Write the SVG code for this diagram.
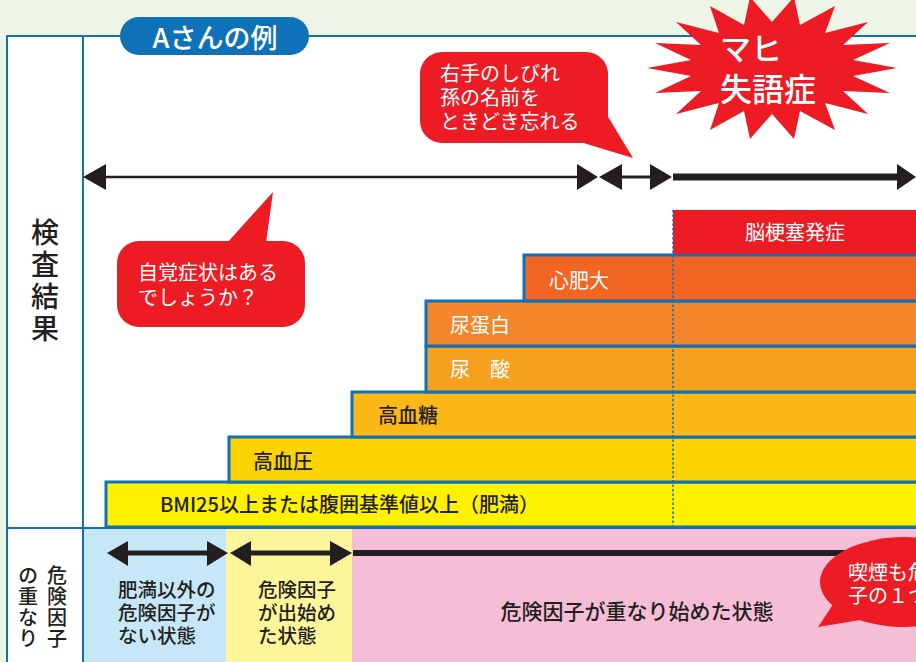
<svg xmlns="http://www.w3.org/2000/svg" width="916" height="662" viewBox="0 0 916 662">
<style>
text{font-family:"Noto Sans CJK JP","Noto Sans",sans-serif}
.bar{stroke:#0f71b7;stroke-width:3}
.w{fill:#fff}
.d{fill:#231f20;font-weight:500}
.f20{font-size:20px}
.ln{stroke:#231f20;fill:none}
.hd{fill:#231f20}
.red{fill:#ed1c24}
.v{writing-mode:vertical-rl}
</style>
<rect x="0" y="0" width="916" height="662" fill="#eef4e6"/>
<g id="frame">
<rect x="7" y="36" width="915" height="632" fill="#fff" stroke="#0f71b7" stroke-width="2"/>
<rect x="83" y="528" width="143" height="134" fill="#c6e7f8"/>
<rect x="226" y="528" width="126" height="134" fill="#fdf59a"/>
<rect x="352" y="528" width="564" height="134" fill="#f6bed6"/>
<line x1="83" y1="36" x2="83" y2="662" stroke="#0f71b7" stroke-width="2"/>
<line x1="7" y1="528" x2="916" y2="528" stroke="#0f71b7" stroke-width="2"/>
</g>
<g id="title">
<rect x="120" y="17" width="189" height="38" rx="19" fill="#0f71b7"/>
<text x="215" y="48" text-anchor="middle" class="w" font-size="27" font-weight="500">Aさんの例</text>
</g>
<g id="label-kensa">
<text x="45" y="218" class="d v" font-size="28" font-weight="400" letter-spacing="4">検査結果</text>
</g>
<g id="label-kiken">
<text x="57" y="565" class="d v" font-size="20" letter-spacing="1">危険因子</text>
<text x="28" y="565" class="d v" font-size="20" letter-spacing="1">の重なり</text>
</g>
<g id="bar-bmi">
<rect class="bar" x="106" y="482" width="830" height="45" fill="#fff200"/>
<text x="160" y="512" class="d f20">BMI25以上または腹囲基準値以上（肥満）</text>
</g>
<g id="bar-koketsuatsu">
<rect class="bar" x="229" y="437" width="710" height="45" fill="#fdd400"/>
<text x="253" y="469" class="d f20">高血圧</text>
</g>
<g id="bar-koketto">
<rect class="bar" x="352" y="392" width="590" height="45" fill="#fbb817"/>
<text x="378" y="423" class="d f20">高血糖</text>
</g>
<g id="bar-nyosan">
<rect class="bar" x="426" y="346" width="520" height="46" fill="#f6a01f"/>
<text x="450" y="377" class="w f20" xml:space="preserve">尿　酸</text>
</g>
<g id="bar-nyotanpaku">
<rect class="bar" x="426" y="301" width="520" height="45" fill="#f3852a"/>
<text x="450" y="333" class="w f20">尿蛋白</text>
</g>
<g id="bar-shinhidai">
<rect class="bar" x="524" y="255" width="420" height="46" fill="#f26522"/>
<text x="549" y="288" class="w f20">心肥大</text>
</g>
<g id="bar-noukousoku">
<rect x="673" y="210" width="250" height="44" fill="#ed1c24"/>
<text x="795" y="240" text-anchor="middle" class="w f20">脳梗塞発症</text>
</g>
<line x1="673" y1="210" x2="673" y2="527" stroke="#0f71b7" stroke-width="1.5" stroke-dasharray="2.5 2"/>
<g id="connectors">
<line class="ln" x1="100" y1="177" x2="580" y2="177" stroke-width="2.5"/>
<polygon class="hd" points="83,177 106,164 106,190"/>
<polygon class="hd" points="598,177 577,164 577,190"/>
<line class="ln" x1="618" y1="177" x2="654" y2="177" stroke-width="3"/>
<polygon class="hd" points="599,177 622,164 622,190"/>
<polygon class="hd" points="672,177 650,164 650,190"/>
<line class="ln" x1="673" y1="177" x2="900" y2="177" stroke-width="7"/>
<polygon class="hd" points="916,177 897,164 897,190"/>
<line class="ln" x1="124" y1="553" x2="211" y2="553" stroke-width="5"/>
<polygon class="hd" points="107,553 128,541 128,566"/>
<polygon class="hd" points="228,553 207,541 207,566"/>
<line class="ln" x1="247" y1="553" x2="334" y2="553" stroke-width="5"/>
<polygon class="hd" points="230,553 251,541 251,566"/>
<polygon class="hd" points="352,553 330,541 330,566"/>
<line class="ln" x1="353" y1="553" x2="870" y2="553" stroke-width="6"/>
</g>
<g id="bottom-texts" class="d" font-size="19.5">
<text x="118" y="597">肥満以外の<tspan x="118" dy="23">危険因子が</tspan><tspan x="118" dy="23">ない状態</tspan></text>
<text x="258" y="597">危険因子<tspan x="258" dy="23">が出始め</tspan><tspan x="258" dy="23">た状態</tspan></text>
<text x="637" y="619" text-anchor="middle" font-size="21">危険因子が重なり始めた状態</text>
</g>
<g id="callout-shibire">
<rect class="red" x="420" y="52" width="188" height="91" rx="22"/>
<polygon class="red" points="580,142 633,158 607,115"/>
<text x="440" y="81" class="w f20">右手のしびれ<tspan x="440" dy="24">孫の名前を</tspan><tspan x="440" dy="24">ときどき忘れる</tspan></text>
</g>
<g id="callout-jikaku">
<rect class="red" x="117" y="241" width="188" height="86" rx="22"/>
<polygon class="red" points="227,243 273,192 266,243"/>
<text x="138" y="280" class="w f20">自覚症状はある<tspan x="138" dy="25">でしょうか？</tspan></text>
</g>
<g id="burst-mahi">
<polygon class="red" points="897,68 853,76 890,93 843,91 868,114 825,103 835,130 800,111 794,139 772,114 750,139 744,111 710,130 719,103 676,114 701,91 655,93 691,76 647,68 691,60 655,43 701,45 676,22 719,33 710,6 744,25 750,-3 772,22 794,-3 800,25 835,6 825,33 868,22 843,45 890,43 853,60"/>
<text x="720" y="60" class="w" font-size="31" font-weight="500">マヒ<tspan x="720" dy="41" font-size="32">失語症</tspan></text>
</g>
<g id="callout-kitsuen">
<ellipse class="red" cx="905" cy="582" rx="85" ry="45"/>
<polygon class="red" points="836,600 818,627 866,619"/>
<text x="848" y="580" class="w f20">喫煙も危<tspan x="848" dy="23">子の１つ</tspan></text>
</g>
</svg>
